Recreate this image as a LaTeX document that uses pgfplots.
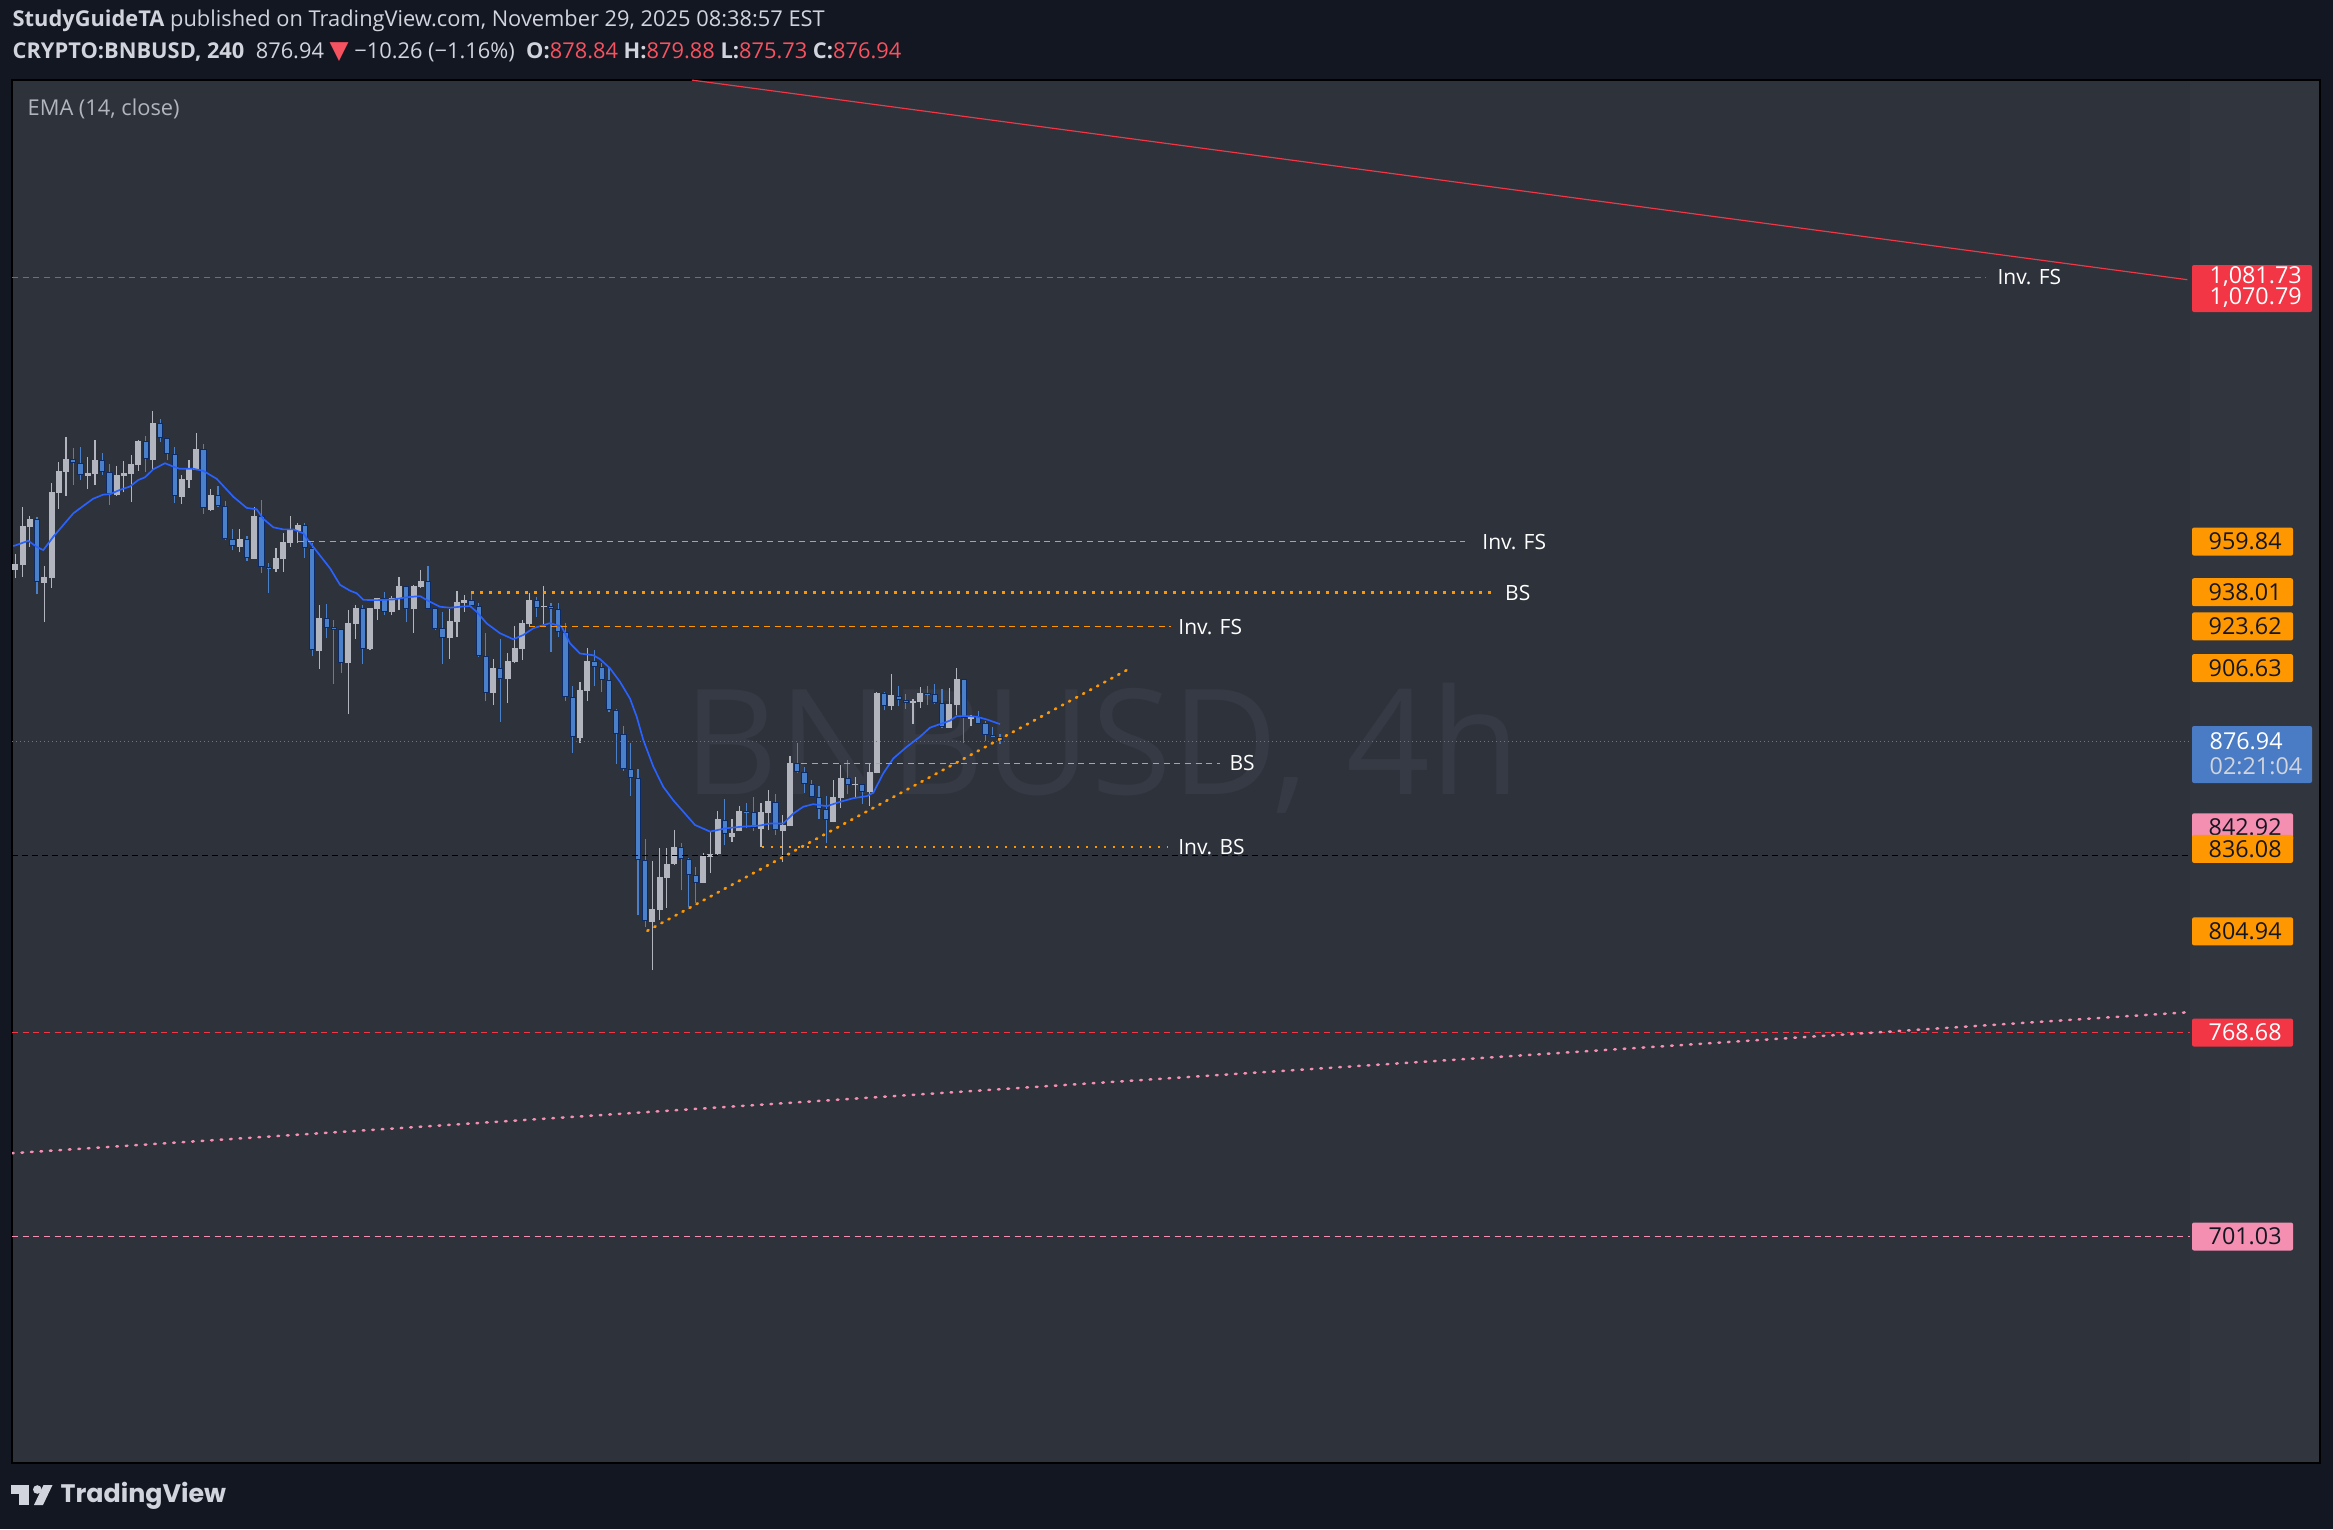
\documentclass[border=0pt]{standalone}
\usepackage{fontspec}
\setmainfont{Open Sans}
\newfontfamily\symfont{DejaVu Sans}
\newfontfamily\logofont{Poppins}
\usepackage{pgfplots}
\usepackage{pgfplotstable}
\pgfplotsset{compat=1.18}

\definecolor{outerbg}{HTML}{131722}
\definecolor{panelbg}{HTML}{2E323B}
\definecolor{scalebg}{HTML}{31353E}
\definecolor{txt}{HTML}{D1D4DC}
\definecolor{muted}{HTML}{B2B5BE}
\definecolor{upc}{HTML}{B2B5BE}
\definecolor{dnc}{HTML}{4A7FC9}
\definecolor{dnb}{HTML}{0C2A66}
\definecolor{ema}{HTML}{2962FF}
\definecolor{tvred}{HTML}{F23645}
\definecolor{tvorange}{HTML}{FF9800}
\definecolor{tvpink}{HTML}{F48FB1}
\definecolor{tvblue}{HTML}{4A7BC5}
\definecolor{hred}{HTML}{F7525F}
\definecolor{wmark}{HTML}{363A44}

\newcommand\hdfont{\fontsize{6.55}{7.6}\selectfont}
\newcommand\plfont{\fontsize{7}{8}\selectfont}
\newcommand\lbfont{\fontsize{6.3}{7.5}\selectfont}

% 4h candles, BNBUSD
\pgfplotstableread{
i o h l c
1 947.6 954.5 944.3 950.2
2 949.9 975.0 944.8 966.7
3 966.4 971.1 957.6 969.8
4 969.6 970.8 937.5 942.4
5 942.2 949.4 925.7 944.6
6 944.3 985.5 940.1 981.6
7 981.4 995.0 974.3 991.0
8 990.7 1006.4 979.9 996.4
9 996.3 1001.3 984.8 994.5
10 994.5 1001.8 987.0 989.1
11 988.9 997.3 983.2 990.1
12 989.8 1005.0 984.8 995.9
13 995.8 999.1 989.3 990.5
14 990.5 994.2 976.0 980.6
15 980.5 993.3 979.8 989.3
16 988.9 995.5 981.5 990.1
17 989.8 998.2 977.4 994.2
18 993.8 1005.1 991.2 1004.5
19 1004.4 1006.9 990.7 996.3
20 995.9 1018.3 992.1 1012.8
21 1012.7 1014.7 1004.2 1005.8
22 1005.8 1006.1 995.8 998.9
23 998.9 1001.9 976.9 979.8
24 979.5 989.3 976.5 987.5
25 987.2 995.9 983.5 991.9
26 991.6 1008.2 991.3 1000.9
27 1000.7 1003.2 972.1 974.5
28 973.7 983.0 973.4 980.3
29 980.2 984.2 975.0 975.3
30 975.3 977.7 960.6 960.8
31 960.8 965.3 956.2 957.8
32 957.6 965.4 955.2 960.9
33 960.8 962.4 951.5 952.6
34 952.5 975.0 952.3 971.1
35 971.0 978.1 946.5 948.8
36 948.9 950.5 938.0 948.2
37 948.1 957.0 946.7 952.8
38 952.3 963.6 946.8 959.6
39 959.4 971.1 957.6 964.9
40 964.6 967.9 959.4 967.1
41 967.0 967.9 952.9 957.2
42 957.2 959.4 911.6 913.8
43 913.5 932.7 906.2 927.3
44 927.2 933.1 918.9 923.2
45 923.4 926.4 900.1 922.4
46 922.5 922.7 904.5 908.7
47 908.6 930.6 887.9 925.1
48 924.8 932.6 918.6 931.5
49 931.3 932.6 908.3 914.4
50 914.3 931.6 914.1 931.5
51 931.0 935.9 926.4 935.7
52 935.5 938.1 928.5 929.9
53 929.9 936.6 928.5 935.9
54 935.7 944.6 930.7 940.8
55 940.7 940.9 925.6 931.2
56 931.0 941.1 921.1 940.8
57 940.4 947.6 939.8 942.9
58 942.8 949.4 931.0 931.2
59 931.3 931.4 922.3 922.8
60 922.9 929.8 908.2 919.0
61 918.9 930.9 910.3 926.0
62 925.7 938.5 919.5 934.0
63 933.7 936.8 929.9 934.8
64 934.7 937.8 932.0 932.4
65 932.4 933.4 911.1 911.3
66 911.3 920.9 892.9 896.4
67 896.4 910.2 891.5 906.5
68 906.4 918.6 884.8 902.1
69 902.0 912.7 892.3 909.4
70 909.1 924.1 908.4 914.6
71 914.3 926.4 909.8 925.2
72 924.9 938.0 923.6 934.8
73 934.8 936.0 927.8 931.6
74 932.0 940.8 924.9 932.4
75 932.2 933.4 913.2 930.9
76 930.9 933.5 919.5 921.3
77 921.3 925.1 893.1 894.6
78 894.6 899.2 872.4 878.6
79 878.4 900.8 876.4 897.5
80 897.2 914.6 893.1 909.4
81 909.3 913.9 899.2 907.1
82 907.1 908.4 896.8 901.5
83 901.5 907.1 888.6 889.3
84 889.3 889.7 868.1 879.7
85 879.7 883.1 865.4 865.9
86 865.9 876.3 855.6 862.4
87 862.4 866.1 810.7 831.0
88 831.0 839.1 806.2 808.4
89 808.3 830.8 790.9 812.9
90 812.6 835.8 808.9 824.8
91 824.5 835.8 813.2 829.7
92 829.6 842.5 829.4 836.0
93 836.0 837.5 819.8 831.4
94 831.4 831.9 813.7 825.4
95 825.4 828.4 815.0 822.7
96 822.7 833.9 822.5 832.7
97 832.4 841.6 826.2 833.4
98 833.3 849.7 832.9 846.7
99 846.3 854.3 836.9 841.0
100 839.8 846.7 838.0 841.4
101 842.2 851.6 842.0 849.7
102 849.7 852.8 843.1 849.5
103 849.2 855.1 842.2 843.1
104 843.0 852.8 836.1 849.2
105 849.1 858.0 842.5 853.5
106 853.4 856.3 840.6 842.4
107 842.1 848.2 830.4 844.4
108 844.1 871.0 843.9 868.4
109 868.3 876.3 864.4 864.8
110 864.8 866.8 856.8 860.4
111 860.4 861.6 855.2 855.3
112 855.3 859.4 846.8 850.4
113 850.4 855.5 837.5 846.2
114 845.6 861.7 845.4 855.1
115 854.8 867.5 850.9 862.5
116 862.5 869.6 856.2 859.7
117 859.7 862.9 855.2 860.2
118 860.1 860.2 852.4 857.2
119 857.2 868.0 851.6 864.9
120 864.6 896.7 864.4 896.4
121 896.3 896.7 889.3 891.1
122 891.1 904.1 889.4 895.5
123 895.3 899.2 891.3 893.5
124 893.7 895.9 889.9 892.5
125 892.3 894.1 884.0 893.0
126 892.7 898.8 890.5 896.2
127 896.2 899.2 891.4 895.7
128 895.9 900.1 891.7 892.5
129 892.5 897.9 882.4 882.5
130 882.4 898.3 882.2 891.8
131 891.5 906.5 887.4 902.0
132 901.9 902.2 876.4 886.1
133 886.0 887.3 883.2 887.2
134 886.9 889.0 883.9 884.0
135 884.1 885.0 877.2 879.3
136 879.3 882.6 878.6 878.8
137 878.84 879.88 875.73 876.94
}\candles

% EMA (14, close)
\pgfplotstableread{
i v
0.72 957.9
2.80 960.2
3.95 957.6
4.87 956.2
6.25 962.0
7.63 967.1
9.01 972.2
10.39 975.5
11.77 978.7
13.15 980.5
14.08 980.7
15.46 982.6
16.84 984.1
17.99 987.0
18.91 988.2
20.06 991.8
21.68 994.5
22.82 993.0
23.75 992.0
25.59 992.0
26.97 991.1
28.82 987.5
31.11 979.6
32.96 974.6
34.34 974.0
35.25 969.8
36.64 966.1
38.02 965.2
39.40 965.2
40.78 963.5
41.70 959.4
42.85 954.8
44.47 948.4
45.85 941.3
47.23 938.8
48.15 937.7
49.07 934.9
50.92 934.8
53.21 935.1
55.06 936.0
56.90 936.5
58.28 934.1
59.66 932.0
61.04 931.6
62.42 932.0
63.80 932.3
64.73 929.9
66.11 925.0
67.95 920.9
69.78 918.4
71.17 920.2
72.55 923.0
74.85 925.1
76.47 923.7
77.62 916.7
79.00 912.5
80.83 911.8
81.76 910.2
83.14 906.4
84.52 900.9
85.90 894.1
86.83 886.8
87.74 877.5
89.12 867.0
90.50 859.1
91.88 853.9
93.27 849.5
94.88 844.4
96.95 841.9
99.26 843.2
101.55 843.8
103.86 844.2
105.25 845.0
107.08 845.0
108.46 848.8
109.84 851.4
111.22 852.4
113.07 851.6
114.91 853.3
116.75 854.7
118.60 855.5
119.51 856.8
120.89 864.4
122.27 870.2
124.12 874.8
125.96 878.8
127.34 882.4
128.72 883.8
130.10 885.2
131.03 887.0
132.41 887.0
133.79 886.8
135.17 885.7
137.01 883.8
}\emadata

% price-scale label: y (px from top), fill, text colour, text
\newcommand\plab[4]{%
  \fill[#2, rounded corners=0.6pt] (2192,-#1+14) rectangle (2293,-#1-14);
  \node[anchor=west, text=#3, font=\plfont, inner sep=0] at (2208,-#1) {#4};}

\pgfplotsset{
  wick/.style={draw=none, forget plot,
    error bars/.cd, y dir=plus, y explicit, error mark=none,
    error bar style={draw=#1, line width=0.35pt, line cap=butt}, /pgfplots/.cd},
  body/.style 2 args={draw=none, forget plot,
    error bars/.cd, y dir=plus, y explicit, error mark=none,
    error bar style={draw=#1, line width=#2, line cap=butt}, /pgfplots/.cd},
}
\tikzset{lvltxt/.style={pos=1, anchor=west, inner sep=0, text=white, font=\lbfont}}

\begin{document}
\begin{tikzpicture}[x=0.3pt,y=0.3pt]
\fill[outerbg] (0,0) rectangle (2333,-1529);
\fill[panelbg] (12,-80) rectangle (2190,-1463);
\fill[scalebg] (2190,-80) rectangle (2320,-1463);
\draw[black, line width=0.5pt] (12,-80) rectangle (2320,-1463);

\node[anchor=west, text=wmark, font=\fontsize{44}{44}\selectfont, inner sep=0] at (683,-748) {BNBUSD, 4h};

% y axis holds ln(price): the chart is on a log price scale
% plot box top-left at (12,-80) px = (3.6pt,-24pt)
\begin{axis}[at={(0,0)}, anchor=north west, xshift=3.6pt, yshift=-24pt,
  scale only axis, width=653.4pt, height=414.9pt, hide axis, clip=true,
  xmin=0.544, xmax=301.37, ymin=6.45000, ymax=7.07557,
  unbounded coords=discard]
% wicks
\addplot[x filter/.expression={\thisrow{c}>=\thisrow{o} ? x : nan}, wick=upc]
  table[x=i, y expr=ln(\thisrow{l}), y error plus expr=ln(\thisrow{h})-ln(\thisrow{l})] {\candles};
\addplot[x filter/.expression={\thisrow{c}<\thisrow{o} ? x : nan}, wick=dnc]
  table[x=i, y expr=ln(\thisrow{l}), y error plus expr=ln(\thisrow{h})-ln(\thisrow{l})] {\candles};
% bodies
\addplot[x filter/.expression={\thisrow{c}>=\thisrow{o} ? x : nan}, body={upc}{1.8pt}]
  table[x=i, y expr=ln(\thisrow{o}), y error plus expr=ln(\thisrow{c})-ln(\thisrow{o})] {\candles};
\addplot[x filter/.expression={\thisrow{c}<\thisrow{o} ? x : nan}, body={dnb}{1.85pt}]
  table[x=i, y expr=ln(\thisrow{c}), y error plus expr=ln(\thisrow{o})-ln(\thisrow{c})] {\candles};
\addplot[x filter/.expression={\thisrow{c}<\thisrow{o} ? x : nan}, body={dnc}{1.25pt},
  error bars/error bar style={shorten <=0.3pt, shorten >=0.3pt}]
  table[x=i, y expr=ln(\thisrow{c}), y error plus expr=ln(\thisrow{o})-ln(\thisrow{c})] {\candles};
% EMA
\addplot[ema, line width=0.5pt] table[x=i, y expr=ln(\thisrow{v})] {\emadata};

% drawings
\addplot[tvred, line width=0.3pt, dash pattern=on 1.8pt off 1.4pt]
  table[row sep=\\, x=x, y expr=ln(\thisrow{p})] {x p\\ 0.544 1081.73\\ 273.2 1081.73\\}
  node[lvltxt, xshift=3.3pt] {Inv. FS};
\addplot[tvred, line width=0.35pt]
  table[row sep=\\, x=x, y expr=ln(\thisrow{p})] {x p\\ 94.45 1182.7\\ 301.0 1080.6\\};
\addplot[tvorange, line width=0.35pt, dash pattern=on 1.8pt off 1.4pt]
  table[row sep=\\, x=x, y expr=ln(\thisrow{p})] {x p\\ 40 959.84\\ 201.3 959.84\\}
  node[lvltxt, xshift=4.9pt] {Inv. FS};
\addplot[tvorange, line width=0.8pt, dash pattern=on 0.8pt off 1.9pt]
  table[row sep=\\, x=x, y expr=ln(\thisrow{p})] {x p\\ 64 938.01\\ 204.8 938.01\\}
  node[lvltxt, xshift=3.9pt] {BS};
\addplot[tvorange, line width=0.35pt, dash pattern=on 1.8pt off 1.4pt]
  table[row sep=\\, x=x, y expr=ln(\thisrow{p})] {x p\\ 72 923.62\\ 160.6 923.62\\}
  node[lvltxt, xshift=2.1pt] {Inv. FS};
\addplot[tvblue, line width=0.3pt, dash pattern=on 0.3pt off 0.9pt]
  table[row sep=\\, x=x, y expr=ln(\thisrow{p})] {x p\\ 0.544 876.94\\ 301.37 876.94\\};
\addplot[tvorange, line width=0.3pt, dash pattern=on 1.8pt off 1.4pt]
  table[row sep=\\, x=x, y expr=ln(\thisrow{p})] {x p\\ 109.5 868.4\\ 167.4 868.4\\}
  node[lvltxt, xshift=2.7pt] {BS};
\addplot[black, line width=0.35pt, dash pattern=on 1.7pt off 1.3pt]
  table[row sep=\\, x=x, y expr=ln(\thisrow{p})] {x p\\ 0.544 832.9\\ 301.37 832.9\\};
\addplot[tvorange, line width=0.8pt, dash pattern=on 0.8pt off 1.9pt]
  table[row sep=\\, x=x, y expr=ln(\thisrow{p})] {x p\\ 104.1 836.08\\ 160.2 836.08\\}
  node[lvltxt, xshift=2.7pt] {Inv. BS};
\addplot[tvorange, line width=0.8pt, line cap=round, dash pattern=on 0.4pt off 2pt]
  table[row sep=\\, x=x, y expr=ln(\thisrow{p})] {x p\\ 88.3 804.94\\ 155.1 906.63\\};
\addplot[tvred, line width=0.3pt, dash pattern=on 1.8pt off 1.4pt]
  table[row sep=\\, x=x, y expr=ln(\thisrow{p})] {x p\\ 0.544 768.68\\ 301.37 768.68\\};
\addplot[tvpink, line width=0.75pt, line cap=round, dash pattern=on 0.5pt off 2.35pt]
  table[row sep=\\, x=x, y expr=ln(\thisrow{p})] {x p\\ 0.544 727.9\\ 301.37 775.9\\};
\addplot[tvpink, line width=0.3pt, dash pattern=on 1.8pt off 1.4pt]
  table[row sep=\\, x=x, y expr=ln(\thisrow{p})] {x p\\ 0.544 701.03\\ 301.37 701.03\\};
\end{axis}

% price scale labels
\fill[tvred, rounded corners=0.6pt] (2192,-265) rectangle (2312,-312);
\node[anchor=west, text=white, font=\plfont, inner sep=0] at (2209,-277) {1,081.73};
\node[anchor=west, text=white, font=\plfont, inner sep=0] at (2209,-298) {1,070.79};
\plab{541.6}{tvorange}{outerbg}{959.84}
\plab{592.2}{tvorange}{outerbg}{938.01}
\plab{626.4}{tvorange}{outerbg}{923.62}
\plab{668.1}{tvorange}{outerbg}{906.63}
\fill[tvblue, rounded corners=0.6pt] (2192,-726) rectangle (2312,-783);
\node[anchor=west, text=white, font=\plfont, inner sep=0] at (2209,-741) {876.94};
\node[anchor=west, text=txt, font=\plfont, inner sep=0] at (2209,-766) {02:21:04};
\plab{827.3}{tvpink}{outerbg}{842.92}
\plab{848.9}{tvorange}{outerbg}{836.08}
\plab{931.4}{tvorange}{outerbg}{804.94}
\plab{1032.6}{tvred}{white}{768.68}
\plab{1236.5}{tvpink}{outerbg}{701.03}

% header
\node[anchor=west, inner sep=0, text=txt, font=\hdfont] at (12,-21)
  {\textbf{StudyGuideTA} published on TradingView.com, November 29, 2025 08:38:57 EST};
\node[anchor=west, inner sep=0, text=txt, font=\hdfont] at (12,-52)
  {\textbf{CRYPTO:BNBUSD, 240} \ 876.94 {\color{hred}\symfont\fontsize{7.4}{8}\selectfont ▼} −10.26 (−1.16\%) \ \textbf{O:}{\color{hred}878.84} \textbf{H:}{\color{hred}879.88} \textbf{L:}{\color{hred}875.73} \textbf{C:}{\color{hred}876.94}};
\node[anchor=west, inner sep=0, text=muted, font=\hdfont] at (27,-109) {EMA (14, close)};

% footer logo
\fill[txt] (11,-1485) rectangle (29.3,-1494);
\fill[txt] (19.3,-1494) rectangle (29.3,-1505);
\fill[txt] (37.3,-1489.5) circle[radius=4.3];
\fill[txt] (43.5,-1485) -- (52.5,-1485) -- (43,-1505) -- (34,-1505) -- cycle;
\node[anchor=west, inner sep=0, text=txt, font=\logofont\bfseries\fontsize{7.6}{9}\selectfont] at (60,-1496) {TradingView};

\pgfresetboundingbox
\path (0,0) rectangle (2333,-1529);
\end{tikzpicture}
\end{document}
